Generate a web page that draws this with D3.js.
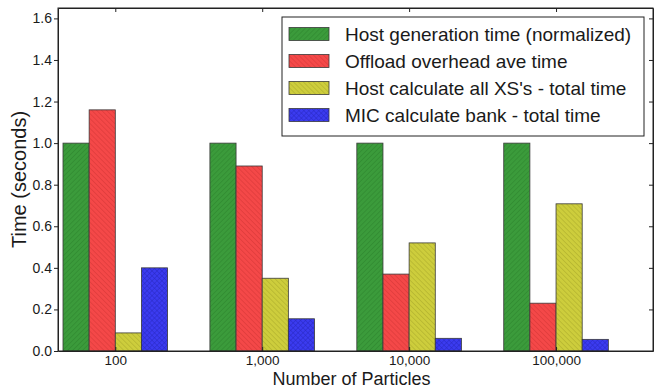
<!DOCTYPE html>
<html>
<head>
<meta charset="utf-8">
<script src="https://cdn.jsdelivr.net/npm/d3@7"></script>
<style>
  body { margin: 0; background: #fff; }
  text { font-family: "Liberation Sans", Arial, sans-serif; fill: #1a1a1a; }
</style>
</head>
<body>
<div id="chart"></div>
<script>
// data
const particles = ["100", "1,000", "10,000", "100,000"];
const seriesNames = [
  "Host generation time (normalized)",
  "Offload overhead ave time",
  "Host calculate all XS's - total time",
  "MIC calculate bank - total time"
];
const hostGen   = [1.0, 1.0, 1.0, 1.0];
const offload   = [1.16, 0.89, 0.37, 0.23];
const hostXS    = [0.087, 0.35, 0.52, 0.708];
const micBank   = [0.40, 0.155, 0.061, 0.056];
const yTicks    = [0.0, 0.2, 0.4, 0.6, 0.8, 1.0, 1.2, 1.4, 1.6];

const allSeries = [hostGen, offload, hostXS, micBank];

// look of each series (fill, hatch line colour, hatch kind)
const styles = [
  {fill: "#3b9b3b", line: "#2a7f2a", hatch: "fwd"},
  {fill: "#f44848", line: "#cf3434", hatch: "back"},
  {fill: "#cdcd3c", line: "#a5a528", hatch: "back"},
  {fill: "#3b3bf0", line: "#2626bf", hatch: "cross"}
];

// set the dimensions and margins of the graph
const margin = {top: 8, right: 1, bottom: 38, left: 58},
      width = 654 - margin.left - margin.right,
      height = 389 - margin.top - margin.bottom;

const svg = d3.select("#chart")
  .append("svg")
    .attr("width", 654)
    .attr("height", 389);

// hatch patterns
const defs = svg.append("defs");
styles.forEach((s, i) => {
  const p = defs.append("pattern")
      .attr("id", "hatch" + i)
      .attr("patternUnits", "userSpaceOnUse")
      .attr("width", 3.5)
      .attr("height", 3.5)
      .attr("patternTransform", s.hatch === "back" ? "rotate(-45)" : "rotate(45)");
  p.append("rect").attr("width", 3.5).attr("height", 3.5).attr("fill", s.fill);
  p.append("line")
      .attr("x1", 0).attr("y1", 0).attr("x2", 0).attr("y2", 3.5)
      .attr("stroke", s.line).attr("stroke-width", 0.9);
  if (s.hatch === "cross") {
    p.append("line")
        .attr("x1", 0).attr("y1", 0).attr("x2", 3.5).attr("y2", 0)
        .attr("stroke", s.line).attr("stroke-width", 0.9);
  }
});

const g = svg.append("g")
    .attr("transform", `translate(${margin.left},${margin.top})`);

// x: group index, like matplotlib's xlim
const x = d3.scaleLinear()
  .domain([-0.39, 3.66])
  .range([0, width]);

const barW = 0.178;
const xSub = d3.scaleBand()
  .domain(d3.range(allSeries.length))
  .range([-2 * barW, 2 * barW]);

// y
const y = d3.scaleLinear()
  .domain([0, 1.65])
  .range([height, 0]);

// bars
allSeries.forEach((vals, si) => {
  g.append("g")
    .selectAll("rect")
    .data(vals)
    .join("rect")
      .attr("x", (d, i) => x(i + xSub(si)))
      .attr("y", d => y(d))
      .attr("width", x(barW) - x(0))
      .attr("height", d => y(0) - y(d))
      .attr("fill", `url(#hatch${si})`)
      .attr("stroke", "#3a3a3a")
      .attr("stroke-width", 0.8);
});

// axes
const yAxis = g.append("g")
    .call(d3.axisLeft(y).tickValues(yTicks).tickFormat(d3.format(".1f"))
      .tickSizeInner(4).tickSizeOuter(0).tickPadding(2));
yAxis.selectAll("text").style("font-size", "14px");

g.append("g")
    .attr("transform", `translate(${width},0)`)
    .call(d3.axisRight(y).tickValues(yTicks).tickSizeInner(-4).tickSizeOuter(0).tickFormat(""));

const xAxis = g.append("g")
    .attr("transform", `translate(0,${height})`)
    .call(d3.axisBottom(x).tickValues(d3.range(particles.length))
      .tickFormat(i => particles[i]).tickSizeInner(-4).tickSizeOuter(0).tickPadding(4));
xAxis.selectAll("text").style("font-size", "13.5px");

g.append("g")
    .call(d3.axisTop(x).tickValues(d3.range(particles.length))
      .tickSizeInner(-4).tickSizeOuter(0).tickFormat(""));

g.selectAll(".domain").attr("stroke", "#222");
g.selectAll(".tick line").attr("stroke", "#222");

// frame
g.append("rect")
    .attr("width", width)
    .attr("height", height)
    .attr("fill", "none")
    .attr("stroke", "#222")
    .attr("stroke-width", 1);

// axis titles
svg.append("text")
    .attr("transform", `translate(26,${margin.top + height / 2}) rotate(-90)`)
    .attr("text-anchor", "middle")
    .style("font-size", "20px")
    .text("Time (seconds)");

svg.append("text")
    .attr("x", margin.left + width / 2 - 4)
    .attr("y", 385)
    .attr("text-anchor", "middle")
    .style("font-size", "18px")
    .text("Number of Particles");

// legend
const legend = svg.append("g").attr("transform", "translate(282,17)");
legend.append("rect")
    .attr("width", 362)
    .attr("height", 119)
    .attr("fill", "#fff")
    .attr("stroke", "#222")
    .attr("stroke-width", 1);

const rowH = 27;
const rows = legend.selectAll("g.row")
  .data(seriesNames)
  .join("g")
    .attr("class", "row")
    .attr("transform", (d, i) => `translate(7,${17 + i * rowH})`);

rows.append("rect")
    .attr("x", 0)
    .attr("y", -6.5)
    .attr("width", 40)
    .attr("height", 13)
    .attr("fill", (d, i) => `url(#hatch${i})`)
    .attr("stroke", "#3a3a3a")
    .attr("stroke-width", 0.8);

rows.append("text")
    .attr("x", 56)
    .attr("dy", "0.36em")
    .style("font-size", "19px")
    .text(d => d);
</script>
</body>
</html>
